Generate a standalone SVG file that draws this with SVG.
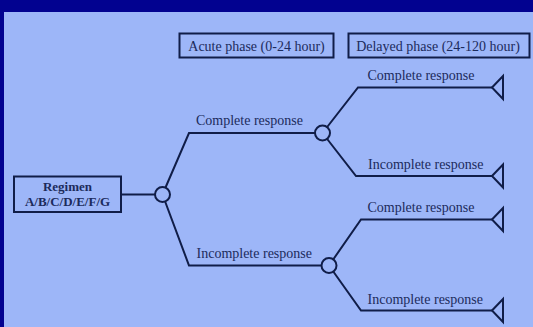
<svg xmlns="http://www.w3.org/2000/svg" width="533" height="327" viewBox="0 0 533 327">
<style>
.ln{fill:none;stroke:#101d48;stroke-width:2;stroke-linejoin:miter}
.box{fill:none;stroke:#101d48;stroke-width:2}
.chance{fill:#9db6f8;stroke:#101d48;stroke-width:2}
.term{fill:#9db6f8;stroke:#101d48;stroke-width:2;stroke-linejoin:miter}
.t{font-family:"Liberation Serif","Times New Roman",serif;font-size:14px;fill:#1c2b5c}
.b{font-family:"Liberation Serif","Times New Roman",serif;font-size:13px;font-weight:bold;fill:#1c2b5c}
</style>
<rect x="0" y="0" width="533" height="327" fill="#020290"/>
<rect x="4" y="12" width="529" height="315" fill="#9db6f8"/>

<g id="header-acute">
<rect class="box" x="179.5" y="33.5" width="154" height="24"/>
<text class="t" x="256.5" y="50.5" text-anchor="middle">Acute phase (0-24 hour)</text>
</g>
<g id="header-delayed">
<rect class="box" x="348.5" y="33.5" width="181" height="24"/>
<text class="t" x="438" y="50.5" text-anchor="middle">Delayed phase (24-120 hour)</text>
</g>

<g id="connectors">
<path class="ln" d="M121,194.5 H162.5"/>
<path class="ln" d="M162.5,194.5 L189,133 H322.5"/>
<path class="ln" d="M162.5,194.5 L189,265.5 H329"/>
<path class="ln" d="M322.5,133 L358,87.5 H492"/>
<path class="ln" d="M322.5,133 L356,176 H492"/>
<path class="ln" d="M329,265.5 L361,219.5 H492"/>
<path class="ln" d="M329,265.5 L361,310.5 H492"/>
</g>

<g id="regimen">
<rect class="box" x="14" y="176.5" width="107" height="35.5"/>
<text class="b" x="67.5" y="190.5" text-anchor="middle">Regimen</text>
<text class="b" x="67.5" y="205.5" text-anchor="middle">A/B/C/D/E/F/G</text>
</g>

<g id="chance1"><circle class="chance" cx="162.5" cy="194.5" r="7.5"/></g>
<g id="chance2"><circle class="chance" cx="322.5" cy="133" r="7.5"/></g>
<g id="chance3"><circle class="chance" cx="329" cy="265.5" r="7.5"/></g>

<g id="label-acute-complete"><text class="t" x="196" y="125">Complete response</text></g>
<g id="label-acute-incomplete"><text class="t" x="196.5" y="257.5">Incomplete response</text></g>
<g id="label-cc"><text class="t" x="367.5" y="80">Complete response</text></g>
<g id="label-ci"><text class="t" x="368" y="168.5">Incomplete response</text></g>
<g id="label-ic"><text class="t" x="367.5" y="212">Complete response</text></g>
<g id="label-ii"><text class="t" x="367.5" y="304">Incomplete response</text></g>

<g id="term1"><polygon class="term" points="492,87.5 503,76 503,99"/></g>
<g id="term2"><polygon class="term" points="492,176 503,164.5 503,187.5"/></g>
<g id="term3"><polygon class="term" points="492,219.5 503,208 503,231"/></g>
<g id="term4"><polygon class="term" points="492,310.5 503,299 503,322"/></g>
</svg>
